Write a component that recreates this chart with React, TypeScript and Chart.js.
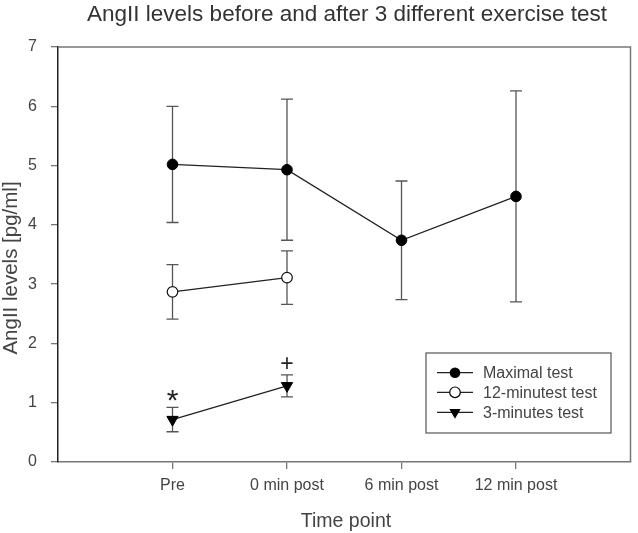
import React, { useEffect, useRef } from 'react';
import { Chart, registerables } from 'chart.js';

Chart.register(...registerables);

const categories = ['Pre', '0 min post', '6 min post', '12 min post'];
const yTicks = [0, 1, 2, 3, 4, 5, 6, 7];

const maximalMean = [5.02, 4.93, 3.74, 4.48];
const maximalErr = [0.98, 1.19, 1.0, 1.78];
const twelveMean = [2.87, 3.11];
const twelveErr = [0.46, 0.45];
const threeMean = [0.715, 1.285];
const threeErr = [0.205, 0.185];

const seriesNames = ['Maximal test', '12-minutest test', '3-minutes test'];

const annotText = ['*', '+'];
const annotCat = [0, 1];
const annotY = [1.13, 1.67];

const titleText = 'AngII levels before and after 3 different exercise test';
const xTitle = 'Time point';
const yTitle = 'AngII levels [pg/ml]';

const FONT = "'Liberation Sans', Arial, Helvetica, sans-serif";

const toPoints = (vals: number[]) => vals.map((v, i) => ({ x: i + 1, y: v }));

function drawMarker(ctx: CanvasRenderingContext2D, kind: number, x: number, y: number) {
  ctx.save();
  ctx.lineWidth = 1.2;
  ctx.strokeStyle = '#000';
  if (kind === 0) {
    ctx.fillStyle = '#000';
    ctx.beginPath();
    ctx.arc(x, y, 5.3, 0, Math.PI * 2);
    ctx.fill();
  } else if (kind === 1) {
    ctx.fillStyle = '#fff';
    ctx.beginPath();
    ctx.arc(x, y, 5.3, 0, Math.PI * 2);
    ctx.fill();
    ctx.stroke();
  } else {
    const r = 6.5;
    ctx.fillStyle = '#000';
    ctx.beginPath();
    ctx.moveTo(x, y + r);
    ctx.lineTo(x - r * Math.sin(Math.PI / 3), y - r / 2);
    ctx.lineTo(x + r * Math.sin(Math.PI / 3), y - r / 2);
    ctx.closePath();
    ctx.fill();
  }
  ctx.restore();
}

const overlay = {
  id: 'overlay',
  beforeDatasetsDraw(chart: any) {
    const ctx = chart.ctx;
    const xs = chart.scales.x;
    const ys = chart.scales.y;
    ctx.save();
    ctx.strokeStyle = '#555';
    ctx.lineWidth = 1.3;
    chart.data.datasets.forEach((ds: any) => {
      ds.data.forEach((p: any, i: number) => {
        const e = ds.errors[i];
        const px = xs.getPixelForValue(p.x);
        const top = ys.getPixelForValue(p.y + e);
        const bot = ys.getPixelForValue(p.y - e);
        ctx.beginPath();
        ctx.moveTo(px, top);
        ctx.lineTo(px, bot);
        ctx.moveTo(px - 6, top);
        ctx.lineTo(px + 6, top);
        ctx.moveTo(px - 6, bot);
        ctx.lineTo(px + 6, bot);
        ctx.stroke();
      });
    });
    ctx.restore();
  },
  afterDraw(chart: any) {
    const ctx: CanvasRenderingContext2D = chart.ctx;
    const area = chart.chartArea;
    const xs = chart.scales.x;
    const ys = chart.scales.y;
    ctx.save();

    // frame top & right
    ctx.strokeStyle = '#777';
    ctx.lineWidth = 1.5;
    ctx.beginPath();
    ctx.moveTo(area.left, area.top);
    ctx.lineTo(area.right, area.top);
    ctx.lineTo(area.right, area.bottom);
    ctx.stroke();

    // annotations
    ctx.fillStyle = '#222';
    ctx.textAlign = 'center';
    ctx.textBaseline = 'alphabetic';
    annotText.forEach((t, i) => {
      ctx.font = `${t === '*' ? 30 : 23}px ${FONT}`;
      const px = xs.getPixelForValue(annotCat[i] + 1);
      const py = ys.getPixelForValue(annotY[i]);
      const m = ctx.measureText(t);
      const asc = m.actualBoundingBoxAscent;
      const desc = m.actualBoundingBoxDescent;
      ctx.fillText(t, px, py + (asc - desc) / 2);
    });

    // legend
    const lx = 426, ly = 353, lw = 185, lh = 80;
    ctx.strokeStyle = '#555';
    ctx.lineWidth = 1.2;
    ctx.strokeRect(lx, ly, lw, lh);
    const rows = [372.7, 392.3, 412.3];
    ctx.font = `16px ${FONT}`;
    ctx.textAlign = 'left';
    ctx.textBaseline = 'middle';
    seriesNames.forEach((name, i) => {
      const y = rows[i];
      ctx.strokeStyle = '#222';
      ctx.lineWidth = 1.3;
      ctx.beginPath();
      ctx.moveTo(437, y);
      ctx.lineTo(473, y);
      ctx.stroke();
      drawMarker(ctx, i, 455, y);
      ctx.fillStyle = '#444';
      ctx.fillText(name, 483, y + 1);
    });

    // main title
    ctx.fillStyle = '#333';
    ctx.textAlign = 'center';
    ctx.textBaseline = 'alphabetic';
    ctx.font = `22.5px ${FONT}`;
    ctx.fillText(titleText, 347, 21);

    // x title
    ctx.fillStyle = '#444';
    ctx.font = `19.5px ${FONT}`;
    ctx.fillText(xTitle, 346, 527);

    // y title
    ctx.font = `20.5px ${FONT}`;
    ctx.translate(17, 268);
    ctx.rotate(-Math.PI / 2);
    ctx.fillText(yTitle, 0, 0);

    ctx.restore();
  },
};

export default function App() {
  const ref = useRef<HTMLCanvasElement | null>(null);

  useEffect(() => {
    if (!ref.current) return;
    const chart = new Chart(ref.current, {
      type: 'line',
      data: {
        datasets: [
          {
            label: seriesNames[0],
            data: toPoints(maximalMean),
            errors: maximalErr,
            borderColor: '#222',
            borderWidth: 1.3,
            pointStyle: 'circle',
            pointRadius: 5.3,
            pointBackgroundColor: '#000',
            pointBorderColor: '#000',
            pointBorderWidth: 1,
            tension: 0,
          } as any,
          {
            label: seriesNames[1],
            data: toPoints(twelveMean),
            errors: twelveErr,
            borderColor: '#222',
            borderWidth: 1.3,
            pointStyle: 'circle',
            pointRadius: 5.3,
            pointBackgroundColor: '#fff',
            pointBorderColor: '#111',
            pointBorderWidth: 1.2,
            tension: 0,
          } as any,
          {
            label: seriesNames[2],
            data: toPoints(threeMean),
            errors: threeErr,
            borderColor: '#222',
            borderWidth: 1.3,
            pointStyle: 'triangle',
            pointRotation: 180,
            pointRadius: 6.5,
            pointBackgroundColor: '#000',
            pointBorderColor: '#000',
            pointBorderWidth: 1,
            tension: 0,
          } as any,
        ],
      },
      options: {
        responsive: false,
        animation: false,
        events: [],
        layout: { padding: { top: 47, right: 4, left: 0, bottom: 0 } },
        plugins: {
          legend: { display: false },
          tooltip: { enabled: false },
          title: { display: false },
        },
        scales: {
          x: {
            type: 'linear',
            min: 0,
            max: 5,
            afterBuildTicks: (s: any) => {
              s.ticks = categories.map((_, i) => ({ value: i + 1 }));
            },
            afterFit: (s: any) => {
              s.height = 71;
            },
            ticks: {
              callback: (v: any) => categories[Number(v) - 1] ?? '',
              color: '#444',
              font: { family: FONT, size: 16 },
              padding: 7,
              maxRotation: 0,
              autoSkip: false,
            },
            grid: { drawOnChartArea: false, tickLength: 7, color: '#777', lineWidth: 1.3 },
            border: { color: '#777', width: 1.5 },
          },
          y: {
            type: 'linear',
            min: 0,
            max: 7,
            afterBuildTicks: (s: any) => {
              s.ticks = yTicks.map((v) => ({ value: v }));
            },
            afterFit: (s: any) => {
              s.width = 58;
            },
            ticks: {
              callback: (v: any) => String(v),
              color: '#444',
              font: { family: FONT, size: 16 },
              padding: 14,
            },
            grid: { drawOnChartArea: false, tickLength: 7, color: '#777', lineWidth: 1.3 },
            border: { color: '#222', width: 1.5 },
          },
        },
      } as any,
      plugins: [overlay],
    });
    return () => chart.destroy();
  }, []);

  return (
    <div style={{ position: 'absolute', left: 0, top: 0, width: 638, height: 533, background: '#fff' }}>
      <canvas ref={ref} width={638} height={533} style={{ display: 'block' }} />
    </div>
  );
}
